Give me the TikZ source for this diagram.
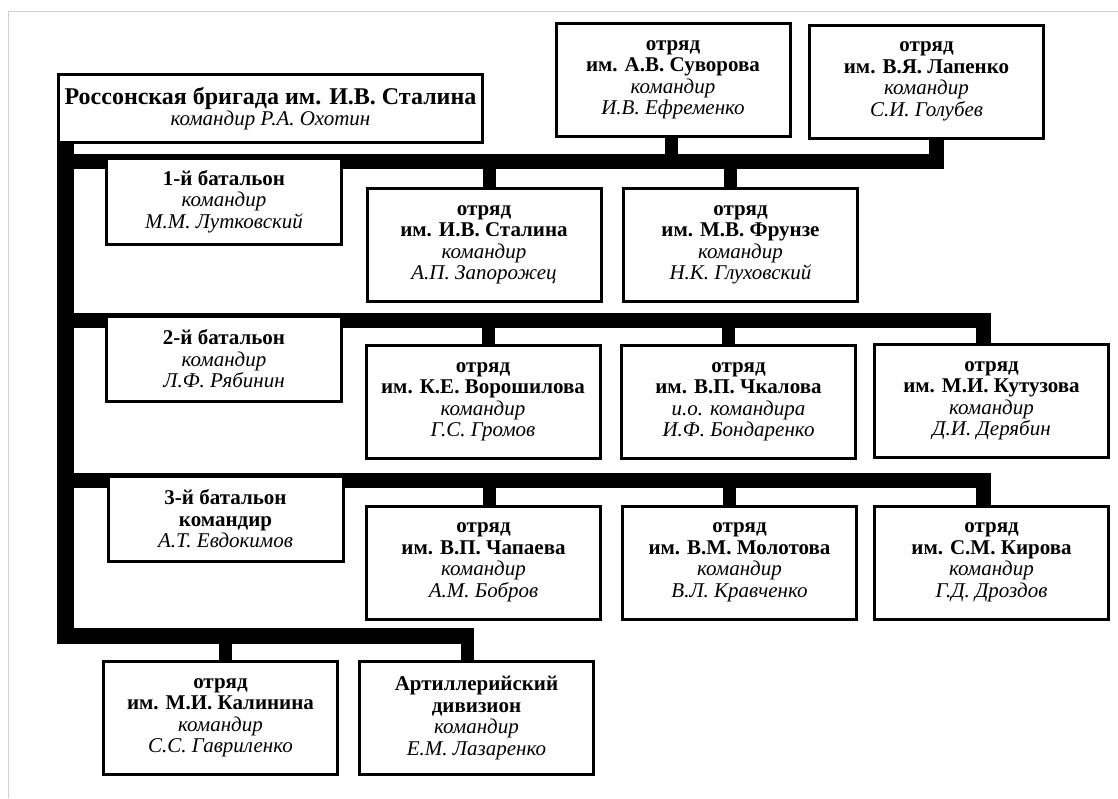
\documentclass[tikz,border=0pt]{standalone}
\usepackage{fontspec}
\setmainfont{Liberation Serif}
\usetikzlibrary{backgrounds,calc}
\begin{document}
\begin{tikzpicture}[x=1pt,y=-1pt,
  box/.style={draw, line width=3pt, fill=white, align=center, inner sep=0pt,
    font=\fontsize{21}{21.5}\selectfont},
  unit/.style={box, minimum width=234pt, minimum height=113pt},
  bat/.style={box, minimum width=235pt, minimum height=85.5pt},
  bus/.style={line width=15pt, line cap=butt, line join=miter},
  trunkline/.style={line width=17pt, line cap=butt},
  lowbus/.style={line width=16pt, line cap=butt},
  stub/.style={line width=13pt, line cap=butt},
  frame/.style={draw=black!18, line width=1pt}]
\useasboundingbox (0,0) rectangle (1118,798);

% boxes
\node[box, minimum width=424pt, minimum height=68pt] (brig) at (270.5,108.5)
  {{\fontsize{24}{26}\selectfont\bfseries Россонская бригада им. И.В. Сталина}\\
   \itshape командир Р.А. Охотин};
\node[unit] (suv) at (673,80) {\bfseries отряд\\\bfseries им. А.В. Суворова\\\itshape командир\\\itshape И.В. Ефременко};
\node[unit] (lap) at (926.5,81.5) {\bfseries отряд\\\bfseries им. В.Я. Лапенко\\\itshape командир\\\itshape С.И. Голубев};
\node[bat] (b1) at (224,201.5) {\bfseries 1-й батальон\\\itshape командир\\\itshape М.М. Лутковский};
\node[unit] (stal) at (484,245) {\bfseries отряд\\\bfseries им. И.В. Сталина\\\itshape командир\\\itshape А.П. Запорожец};
\node[unit] (fru) at (740.5,245) {\bfseries отряд\\\bfseries им. М.В. Фрунзе\\\itshape командир\\\itshape Н.К. Глуховский};
\node[bat] (b2) at (224,359) {\bfseries 2-й батальон\\\itshape командир\\\itshape Л.Ф. Рябинин};
\node[unit] (vor) at (483,402) {\bfseries отряд\\\bfseries им. К.Е. Ворошилова\\\itshape командир\\\itshape Г.С. Громов};
\node[unit] (chk) at (738.5,402) {\bfseries отряд\\\bfseries им. В.П. Чкалова\\\itshape и.о. командира\\\itshape И.Ф. Бондаренко};
\node[unit] (kut) at (991.5,401) {\bfseries отряд\\\bfseries им. М.И. Кутузова\\\itshape командир\\\itshape Д.И. Дерябин};
\node[bat] (b3) at (225.5,519) {\bfseries 3-й батальон\\\bfseries командир\\\itshape А.Т. Евдокимов};
\node[unit] (chp) at (483.5,562.5) {\bfseries отряд\\\bfseries им. В.П. Чапаева\\\itshape командир\\\itshape А.М. Бобров};
\node[unit] (mol) at (739.5,562.5) {\bfseries отряд\\\bfseries им. В.М. Молотова\\\itshape командир\\\itshape В.Л. Кравченко};
\node[unit] (kir) at (991.5,562.5) {\bfseries отряд\\\bfseries им. С.М. Кирова\\\itshape командир\\\itshape Г.Д. Дроздов};
\node[unit, minimum height=113.5pt] (kal) at (220.5,718) {\bfseries отряд\\\bfseries им. М.И. Калинина\\\itshape командир\\\itshape С.С. Гавриленко};
\node[unit, minimum height=113.5pt] (art) at (476.5,718) {\bfseries Артиллерийский\\\bfseries дивизион\\\itshape командир\\\itshape Е.М. Лазаренко};

% junction coordinates
\coordinate (t) at (65.5,161.5);
\coordinate (r1) at (936,161.5);
\coordinate (r2) at (983.5,320.5);
\coordinate (r3) at (983.5,480.5);
\coordinate (r4) at (467.5,636);

\begin{pgfonlayer}{background}
\fill[white] (0,0) rectangle (1118,798);
\draw[frame] (8,798) -- (8,11) -- (1118,11);
\draw[trunkline] (brig.south -| t) -- (65.5,644);
\draw[lowbus] (57,636) -- (474,636);
\draw[bus] (t) -- (r1) -- (r1 |- lap.south);
\draw[bus] (r2 -| t) -- (r2) -- (r2 |- kut.north);
\draw[bus] (r3 -| t) -- (r3) -- (r3 |- kir.north);
\draw[stub] (r4) -- (r4 |- art.north);
\draw[stub] (671.5,161.5) -- (671.5,161.5 |- suv.south);
\draw[stub] (489,161.5) -- (489,161.5 |- stal.north);
\draw[stub] (730.5,161.5) -- (730.5,161.5 |- fru.north);
\draw[stub] (488,320.5) -- (488,320.5 |- vor.north);
\draw[stub] (728.5,320.5) -- (728.5,320.5 |- chk.north);
\draw[stub] (489,480.5) -- (489,480.5 |- chp.north);
\draw[stub] (729.5,480.5) -- (729.5,480.5 |- mol.north);
\draw[stub] (225,636) -- (225,636 |- kal.north);
\end{pgfonlayer}
\end{tikzpicture}
\end{document}
